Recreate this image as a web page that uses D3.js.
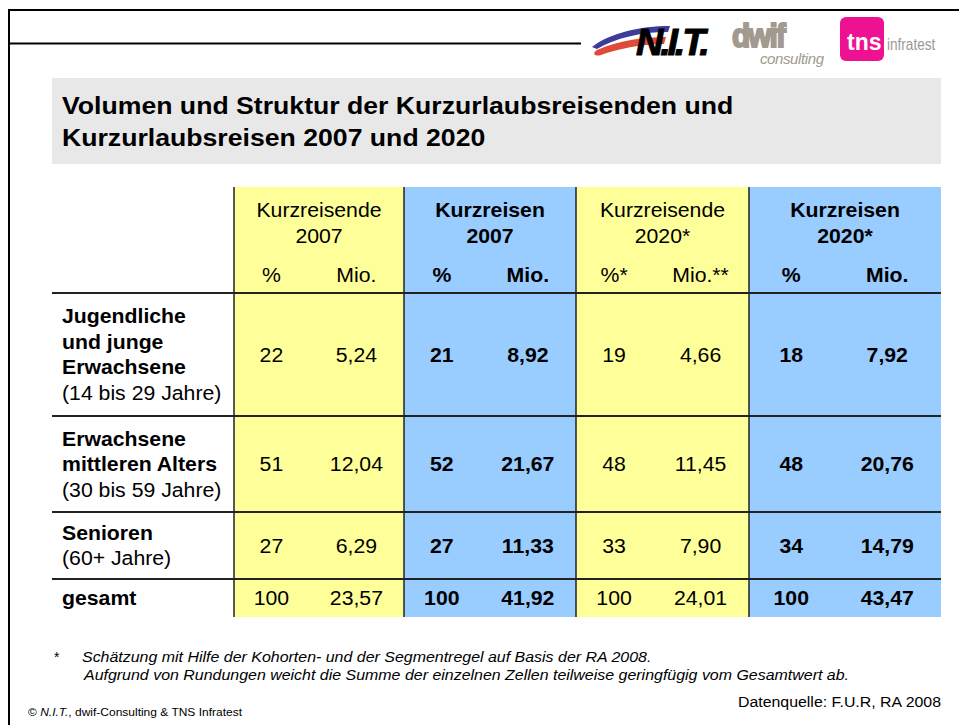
<!DOCTYPE html>
<html>
<head>
<meta charset="utf-8">
<script src="https://cdn.jsdelivr.net/npm/d3@7"></script>
<style>
  body { margin: 0; background: #fff; }
  svg { display: block; font-family: "Liberation Sans", Arial, sans-serif; }
</style>
</head>
<body>
<svg width="959" height="725"></svg>
<script>
// table content
const titleLines = ["Volumen und Struktur der Kurzurlaubsreisenden und", "Kurzurlaubsreisen 2007 und 2020"];
const groupLabels = [["Kurzreisende", "2007"], ["Kurzreisen", "2007"], ["Kurzreisende", "2020*"], ["Kurzreisen", "2020*"]];
const groupBold = [false, true, false, true];
const subLabels = [["%", "Mio."], ["%", "Mio."], ["%*", "Mio.**"], ["%", "Mio."]];
const rowLabels = [
  [["Jugendliche", true], ["und junge", true], ["Erwachsene", true], ["(14 bis 29 Jahre)", false]],
  [["Erwachsene", true], ["mittleren Alters", true], ["(30 bis 59 Jahre)", false]],
  [["Senioren", true], ["(60+ Jahre)", false]],
  [["gesamt", true]]
];
const reisende2007Pct = [22, 51, 27, 100];
const reisende2007Mio = ["5,24", "12,04", "6,29", "23,57"];
const reisen2007Pct = [21, 52, 27, 100];
const reisen2007Mio = ["8,92", "21,67", "11,33", "41,92"];
const reisende2020Pct = [19, 48, 33, 100];
const reisende2020Mio = ["4,66", "11,45", "7,90", "24,01"];
const reisen2020Pct = [18, 48, 34, 100];
const reisen2020Mio = ["7,92", "20,76", "14,79", "43,47"];
const footnote = ["Schätzung mit Hilfe der Kohorten- und der Segmentregel auf Basis der RA 2008.",
                  "Aufgrund von Rundungen weicht die Summe der einzelnen Zellen teilweise geringfügig vom Gesamtwert ab."];
const source = "Datenquelle: F.U.R, RA 2008";

const columns = [
  [reisende2007Pct, reisende2007Mio],
  [reisen2007Pct, reisen2007Mio],
  [reisende2020Pct, reisende2020Mio],
  [reisen2020Pct, reisen2020Mio]
];

// layout
const colEdges = [234, 404, 576, 749, 941];
const rowEdges = [293, 416, 512, 579, 617];
const tableTop = 187, tableLeft = 52;
const fills = ["#FFFF99", "#99CCFF", "#FFFF99", "#99CCFF"];

const svg = d3.select("svg");

// the source slide is a bit wider than Arial, so text gets stretched horizontally
function place(sel, fx, fy, sx) {
  return sel.attr("transform", (d, i) => `translate(${fx(d, i)},${fy(d, i)}) scale(${sx},1)`);
}

// frame
svg.append("path").attr("d", "M9,725 V10 H959").attr("fill", "none").attr("stroke", "#000").attr("stroke-width", 2);
svg.append("line").attr("x1", 9).attr("x2", 581).attr("y1", 43.5).attr("y2", 43.5).attr("stroke", "#000").attr("stroke-width", 2);

// logos
let logo = svg.append("g");
logo.append("path").attr("d", "M592,47 C610,33 640,26 670,26 L668,32 C640,32 616,38 597,49 Z").attr("fill", "#3c3c9c");
logo.append("path").attr("d", "M597,50 C620,40 645,37 666,37 L664,44 C640,44 618,49 601,55 C594,57 592,53 597,50 Z").attr("fill", "#e04a3a");
logo.append("text").attr("transform", "translate(636,55) scale(1.05,1)").attr("font-size", 36).attr("font-weight", "bold")
  .attr("font-style", "italic").attr("letter-spacing", -3).attr("fill", "#000")
  .attr("stroke", "#000").attr("stroke-width", 1).text("N.I.T.");
logo.append("text").attr("transform", "translate(732,47) scale(0.9,1)").attr("font-size", 33).attr("font-weight", "bold")
  .attr("letter-spacing", -2).attr("fill", "#a29a90").attr("stroke", "#a29a90").attr("stroke-width", 2).text("dwif");
logo.append("text").attr("x", 760).attr("y", 64).attr("font-size", 15).attr("font-style", "italic")
  .attr("fill", "#a29a90").attr("textLength", 64).text("consulting");
logo.append("rect").attr("x", 840).attr("y", 17).attr("width", 44).attr("height", 44).attr("rx", 6).attr("fill", "#ee1192");
logo.append("text").attr("x", 847).attr("y", 50).attr("font-size", 23).attr("font-weight", "bold")
  .attr("fill", "#fff").text("tns");
logo.append("text").attr("transform", "translate(887,50) scale(0.85,1)").attr("font-size", 16).attr("fill", "#999").text("infratest");

// title box
svg.append("rect").attr("x", 52).attr("y", 78).attr("width", 889).attr("height", 86).attr("fill", "#E8E8E8");
place(svg.append("g").selectAll("text").data(titleLines).join("text"), () => 62, (d, i) => 114 + i * 32, 1.11)
  .attr("font-size", 24).attr("font-weight", "bold").attr("fill", "#000").text(d => d);

// column fills
const table = svg.append("g");
table.selectAll("rect.col").data(fills).join("rect").attr("class", "col")
  .attr("x", (d, i) => colEdges[i]).attr("y", tableTop)
  .attr("width", (d, i) => colEdges[i + 1] - colEdges[i])
  .attr("height", rowEdges[rowEdges.length - 1] - tableTop)
  .attr("fill", d => d);

const fs = 19.5, sxT = 1.09;

// group headers and values
columns.forEach((col, g) => {
  const x0 = colEdges[g], w = colEdges[g + 1] - x0;
  const subX = [x0 + w * 0.22, x0 + w * 0.72];
  const weight = groupBold[g] ? "bold" : "normal";
  place(table.append("g").selectAll("text").data(groupLabels[g]).join("text"),
      () => x0 + w / 2, (d, i) => 217 + i * 26, sxT)
    .attr("text-anchor", "middle").attr("font-size", fs).attr("font-weight", weight).text(d => d);
  place(table.append("g").selectAll("text").data(subLabels[g]).join("text"),
      (d, i) => subX[i], () => 282, sxT)
    .attr("text-anchor", "middle").attr("font-size", fs).attr("font-weight", weight).text(d => d);
  col.forEach((vals, k) => {
    place(table.append("g").selectAll("text").data(vals).join("text"),
        () => subX[k], (d, r) => (rowEdges[r] + rowEdges[r + 1]) / 2 + 7, sxT)
      .attr("text-anchor", "middle").attr("font-size", fs).attr("font-weight", weight).text(d => d);
  });
});

// row labels
rowLabels.forEach((lines, r) => {
  const mid = (rowEdges[r] + rowEdges[r + 1]) / 2;
  const lh = 25.5;
  const y0 = mid - (lines.length - 1) * lh / 2 + 7;
  place(table.append("g").selectAll("text").data(lines).join("text"),
      () => 62, (d, i) => y0 + i * lh, sxT)
    .attr("font-size", fs).attr("font-weight", d => d[1] ? "bold" : "normal").text(d => d[0]);
});

// grid lines
table.selectAll("line.h").data(rowEdges.slice(0, 4)).join("line").attr("class", "h")
  .attr("x1", tableLeft).attr("x2", colEdges[4]).attr("y1", d => d).attr("y2", d => d)
  .attr("stroke", "#222").attr("stroke-width", 2);
table.selectAll("line.v").data(colEdges.slice(0, 4)).join("line").attr("class", "v")
  .attr("x1", d => d).attr("x2", d => d).attr("y1", tableTop).attr("y2", rowEdges[4])
  .attr("stroke", "#222").attr("stroke-width", 1.5);

// footnotes
svg.append("text").attr("x", 54).attr("y", 662).attr("font-size", 14).text("*");
place(svg.append("g").selectAll("text").data(footnote).join("text"),
    (d, i) => 82 + i * 2, (d, i) => 662 + i * 18, 1.14)
  .attr("font-size", 14).attr("font-style", "italic").text(d => d);
place(svg.append("text").datum(source), () => 941, () => 707, 1.06)
  .attr("text-anchor", "end").attr("font-size", 15).text(d => d);
let copy = place(svg.append("text").datum(0), () => 28, () => 716, 1.12).attr("font-size", 10.7);
copy.append("tspan").text("© ");
copy.append("tspan").attr("font-style", "italic").text("N.I.T.");
copy.append("tspan").text(", dwif-Consulting & TNS Infratest");
</script>
</body>
</html>
